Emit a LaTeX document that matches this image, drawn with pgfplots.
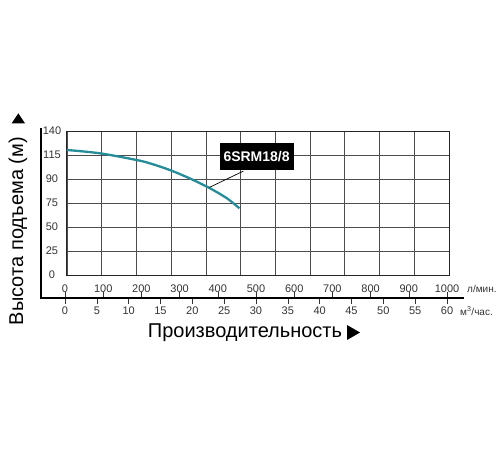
\documentclass[border=0pt]{standalone}
\usepackage{pgfplots}
\pgfplotsset{compat=1.18}
\usepackage{fontspec}
\setmainfont{Liberation Sans}
\definecolor{curve}{RGB}{38,140,152}
\pgfplotsset{every axis/.append style={/pgf/number format/assume math mode=true,/pgf/number format/1000 sep={}}}
\begin{document}
\begin{tikzpicture}
\path (0pt,0pt) rectangle (500pt,450pt);
% grid box: y axis is evenly spaced but labelled 0,25,50,75,90,115,140
\begin{axis}[at={(67pt,175pt)},anchor=south west,scale only axis,width=382pt,height=144pt,
  xmin=5,xmax=1005,ymin=0,ymax=6,
  xtick={5,95.9,186.8,277.7,368.6,459.5,550.5,641.4,732.3,823.2,914.1,1005},xticklabels={},
  ytick={0,...,6},yticklabels={0,25,50,75,90,115,140},
  grid=major,major grid style={black!70,line width=0.7pt},
  axis line style={black!85,line width=1pt},tick style={draw=none},
  yticklabel style={font=\fontsize{11}{13}\selectfont,text=black!80,anchor=center,xshift=-15pt},
  clip=false]
\addplot[curve,line width=2.3pt,smooth] coordinates {
  (4.5,5.21) (91.6,5.07) (187.7,4.79) (222.5,4.65) (274.9,4.37) (327.2,4.02) (379.6,3.61) (423.3,3.20) (456.3,2.78)};
\draw[black,line width=0.7pt] (axis cs:377.7,3.65) -- (axis cs:466.8,4.33);
\node[fill=black,text=white,font=\bfseries\fontsize{14}{16}\selectfont,minimum height=27pt,inner xsep=4pt]
  at (axis cs:501.3,4.94) {6SRM18/8};
\end{axis}
% l/min scale above the thick line
\begin{axis}[at={(65pt,152pt)},anchor=north west,scale only axis,width=382pt,height=10pt,
  xmin=0,xmax=1000,ymin=0,ymax=1,axis x line*=top,axis y line=none,
  axis line style={draw=none},xtick={0,100,...,1000},xtick align=outside,major tick length=6pt,
  tick style={black!80,line width=0.6pt},
  xticklabel style={font=\fontsize{11}{13}\selectfont,text=black!80,anchor=center,yshift=3pt,inner sep=1pt}]
\end{axis}
% m3/h scale below the thick line
\begin{axis}[at={(65pt,152pt)},anchor=south west,scale only axis,width=382pt,height=10pt,
  xmin=0,xmax=60,ymin=0,ymax=1,axis x line*=bottom,axis y line=none,
  axis line style={draw=none},xtick={0,5,...,60},xtick align=outside,major tick length=6pt,
  tick style={black!80,line width=0.6pt},
  xticklabel style={font=\fontsize{11}{13}\selectfont,text=black!80,anchor=center,yshift=-6.7pt,inner sep=1pt}]
\end{axis}
\draw[line width=2.4pt] (41pt,322pt) -- (41pt,152pt) -- (464pt,152pt);
\node[anchor=west,font=\fontsize{10}{12}\selectfont,text=black!80,inner sep=0pt] at (467pt,161pt) {л/мин.};
\node[anchor=west,font=\fontsize{10}{12}\selectfont,text=black!80,inner sep=0pt] at (460pt,139pt) {м\textsuperscript{3}/час.};
\node[rotate=90,font=\fontsize{20}{23}\selectfont,inner sep=0pt] at (18pt,219pt) {Высота подъема (м)};
\fill (11.7pt,326.7pt) -- (25pt,326.7pt) -- (18.3pt,336.7pt) -- cycle;
\node[font=\fontsize{20}{23}\selectfont,inner sep=0pt] at (245pt,117pt) {Производительность};
\fill (347pt,125pt) -- (347pt,110pt) -- (360pt,117.5pt) -- cycle;
\end{tikzpicture}
\end{document}
